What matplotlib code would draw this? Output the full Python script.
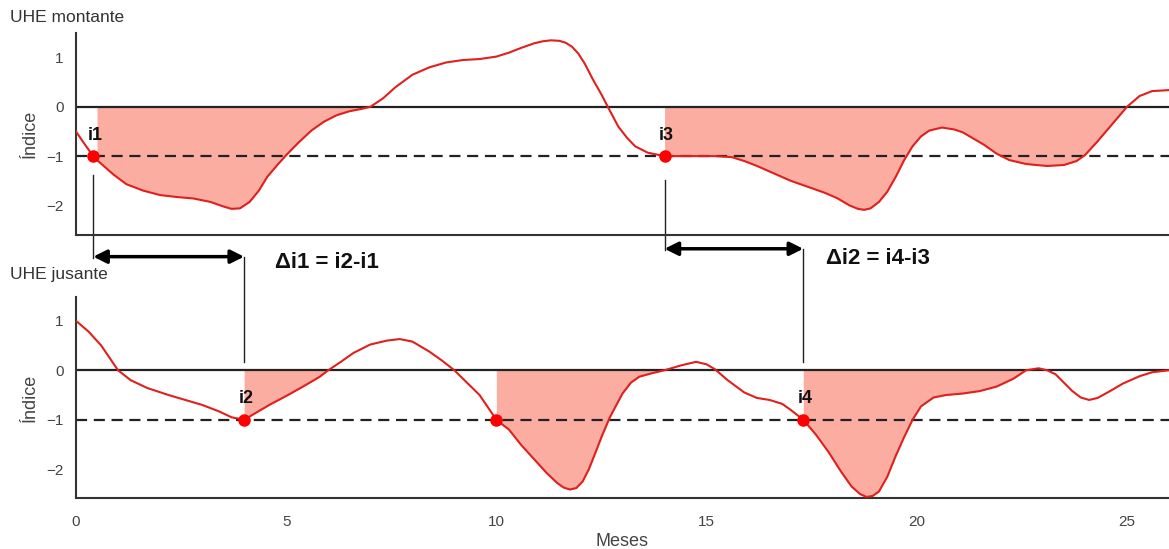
import matplotlib.pyplot as plt
import numpy as np

# curva da UHE montante
top_x = [0, 0.2, 0.41, 0.5, 0.9, 1.2, 1.6, 2.0, 2.4, 2.8, 3.2, 3.5, 3.7, 3.9, 4.13, 4.35,
         4.55, 4.8, 5.0, 5.3, 5.6, 5.9, 6.2, 6.5, 6.8, 7.0, 7.3, 7.6, 8.0, 8.4, 8.8, 9.2,
         9.6, 10.0, 10.3, 10.6, 10.9, 11.1, 11.3, 11.5, 11.65, 11.8, 11.95, 12.1, 12.3, 12.5,
         12.7, 12.9, 13.1, 13.3, 13.6, 14.0, 14.4, 14.8, 15.2, 15.6, 15.9, 16.2, 16.6, 17.0,
         17.4, 17.8, 18.1, 18.4, 18.6, 18.75, 18.9, 19.1, 19.3, 19.5, 19.7, 19.9, 20.1, 20.3,
         20.6, 20.9, 21.1, 21.3, 21.6, 21.9, 22.2, 22.6, 23.1, 23.5, 23.8, 24.0, 24.3, 24.6,
         25.0, 25.3, 25.6, 26.0]
top_y = [-0.5, -0.75, -1.0, -1.08, -1.38, -1.57, -1.7, -1.79, -1.83, -1.86, -1.93, -2.02,
         -2.07, -2.06, -1.93, -1.7, -1.42, -1.17, -0.98, -0.72, -0.48, -0.3, -0.17, -0.09,
         -0.04, 0.0, 0.17, 0.4, 0.65, 0.8, 0.9, 0.95, 0.97, 1.02, 1.1, 1.2, 1.29, 1.33, 1.35,
         1.34, 1.3, 1.22, 1.08, 0.88, 0.55, 0.25, -0.08, -0.4, -0.62, -0.8, -0.93, -1.0, -1.0,
         -1.0, -1.0, -1.02, -1.1, -1.2, -1.35, -1.5, -1.62, -1.74, -1.85, -2.0, -2.07, -2.09,
         -2.06, -1.93, -1.72, -1.42, -1.08, -0.8, -0.6, -0.48, -0.42, -0.46, -0.52, -0.62,
         -0.77, -0.95, -1.08, -1.16, -1.2, -1.18, -1.1, -0.98, -0.7, -0.4, 0.0, 0.22, 0.32,
         0.34]

# curva da UHE jusante
bot_x = [0, 0.3, 0.6, 0.8, 1.0, 1.3, 1.7, 2.2, 2.6, 3.0, 3.4, 3.7, 4.0, 4.3, 4.6, 5.0, 5.4,
         5.8, 6.0, 6.3, 6.6, 7.0, 7.4, 7.7, 8.0, 8.4, 8.7, 9.0, 9.3, 9.6, 10.0, 10.3, 10.6,
         10.9, 11.2, 11.45, 11.6, 11.75, 11.9, 12.05, 12.2, 12.35, 12.5, 12.7, 13.0, 13.2,
         13.4, 13.7, 14.0, 14.4, 14.75, 15.0, 15.2, 15.5, 15.9, 16.2, 16.5, 16.8, 17.0, 17.3,
         17.6, 17.9, 18.2, 18.45, 18.65, 18.8, 18.95, 19.1, 19.3, 19.5, 19.7, 19.9, 20.1,
         20.4, 20.7, 21.1, 21.5, 21.9, 22.3, 22.6, 22.9, 23.1, 23.3, 23.5, 23.7, 23.9, 24.1,
         24.3, 24.6, 24.9, 25.3, 25.6, 26.0]
bot_y = [1.0, 0.78, 0.5, 0.25, 0.0, -0.2, -0.36, -0.5, -0.6, -0.7, -0.83, -0.95, -1.0, -0.85,
         -0.7, -0.52, -0.33, -0.13, 0.0, 0.17, 0.35, 0.52, 0.6, 0.63, 0.58, 0.38, 0.2, 0.0,
         -0.25, -0.5, -1.0, -1.2, -1.52, -1.8, -2.08, -2.28, -2.37, -2.41, -2.38, -2.25,
         -2.0, -1.68, -1.35, -0.95, -0.47, -0.25, -0.13, -0.06, 0.0, 0.1, 0.17, 0.12, 0.02,
         -0.2, -0.45, -0.56, -0.6, -0.68, -0.8, -1.0, -1.3, -1.65, -2.05, -2.35, -2.5, -2.56,
         -2.54, -2.45, -2.15, -1.73, -1.35, -1.0, -0.73, -0.55, -0.5, -0.47, -0.42, -0.33,
         -0.17, 0.0, 0.04, 0.0, -0.08, -0.25, -0.42, -0.55, -0.6, -0.56, -0.42, -0.27, -0.12,
         -0.04, 0.0]

top_fill = [(0.5, 7.0), (14.0, 25.0)]
bot_fill = [(4.0, 6.0), (10.0, 14.0), (17.3, 22.6)]

top_pts_x = [0.41, 14.0]
top_pts_lbl = ['i1', 'i3']
bot_pts_x = [4.0, 10.0, 17.3]
bot_pts_lbl = ['i2', '', 'i4']

red = '#e0201c'
fillc = '#fbada1'
grey = '#444444'

plt.rcParams['font.family'] = ['Liberation Sans', 'DejaVu Sans']

fig = plt.figure(figsize=(11.69, 5.49), dpi=100)
ax1 = fig.add_axes([0.065, 0.572, 0.935, 0.368])
ax2 = fig.add_axes([0.065, 0.093, 0.935, 0.366])


def painel(ax, xs, ys, fills, px, lbls, ylim):
    xs = np.array(xs)
    ys = np.array(ys)
    for a, b in fills:
        m = (xs >= a - 1e-9) & (xs <= b + 1e-9)
        ax.fill_between(xs[m], ys[m], 0, color=fillc, lw=0)
    ax.axhline(0, color='#222222', lw=1.6, zorder=2)
    ax.axhline(-1, color='#222222', lw=1.6, ls=(0, (5, 3)), zorder=2)
    ax.plot(xs, ys, color=red, lw=1.5, zorder=3)
    ax.plot(px, [-1] * len(px), 'o', color='#ff0000', ms=8, zorder=4)
    for x, l in zip(px, lbls):
        ax.annotate(l, (x, -1), xytext=(-4, 9), textcoords='offset points',
                    fontsize=13, fontweight='bold', color='#111111', ha='left', va='bottom')
    ax.set_xlim(0, 26)
    ax.set_ylim(*ylim)
    ax.set_yticks([-2, -1, 0, 1])
    for s in ['top', 'right']:
        ax.spines[s].set_visible(False)
    for s in ['left', 'bottom']:
        ax.spines[s].set_color('#333333')
        ax.spines[s].set_linewidth(1.5)
    ax.tick_params(length=0, labelsize=11, colors=grey, pad=9)
    ax.set_ylabel('Índice', fontsize=13, color=grey, labelpad=5)


painel(ax1, top_x, top_y, top_fill, top_pts_x, top_pts_lbl, (-2.6, 1.5))
painel(ax2, bot_x, bot_y, bot_fill, bot_pts_x, bot_pts_lbl, (-2.58, 1.48))
ax1.set_xticks([])
ax2.set_xticks([0, 5, 10, 15, 20, 25])
ax2.tick_params(axis='x', pad=12)
ax2.set_xlabel('Meses', fontsize=13, color=grey, labelpad=3)

# ligacoes entre os paineis
ax1.plot([0.41, 0.41], [-1.39, -3.06], color='#222222', lw=1, clip_on=False)
ax2.plot([4.0, 4.0], [2.28, 0.16], color='#222222', lw=1, clip_on=False)
ax1.plot([14.0, 14.0], [-1.49, -2.9], color='#222222', lw=1, clip_on=False)
ax2.plot([17.3, 17.3], [2.45, 0.16], color='#222222', lw=1, clip_on=False)

arr = dict(arrowstyle='<|-|>,head_length=0.8,head_width=0.4', color='black', lw=2.5,
           shrinkA=0, shrinkB=0)
ax1.annotate('', xy=(4.0, -3.04), xytext=(0.41, -3.04), arrowprops=arr, annotation_clip=False)
ax1.annotate('', xy=(17.3, -2.88), xytext=(14.0, -2.88), arrowprops=arr, annotation_clip=False)

ax1.text(4.73, -3.16, 'Δi1 = i2-i1', fontsize=16, fontweight='bold', color='#111111',
         va='center', ha='left', clip_on=False)
ax1.text(17.84, -3.08, 'Δi2 = i4-i3', fontsize=16, fontweight='bold', color='#111111',
         va='center', ha='left', clip_on=False)

fig.text(10 / 1169, 1 - 18 / 549, 'UHE montante', fontsize=12.5, color='#333333', va='center')
fig.text(10 / 1169, 1 - 275 / 549, 'UHE jusante', fontsize=12.5, color='#333333', va='center')

fig.savefig('out.png', dpi=100)
